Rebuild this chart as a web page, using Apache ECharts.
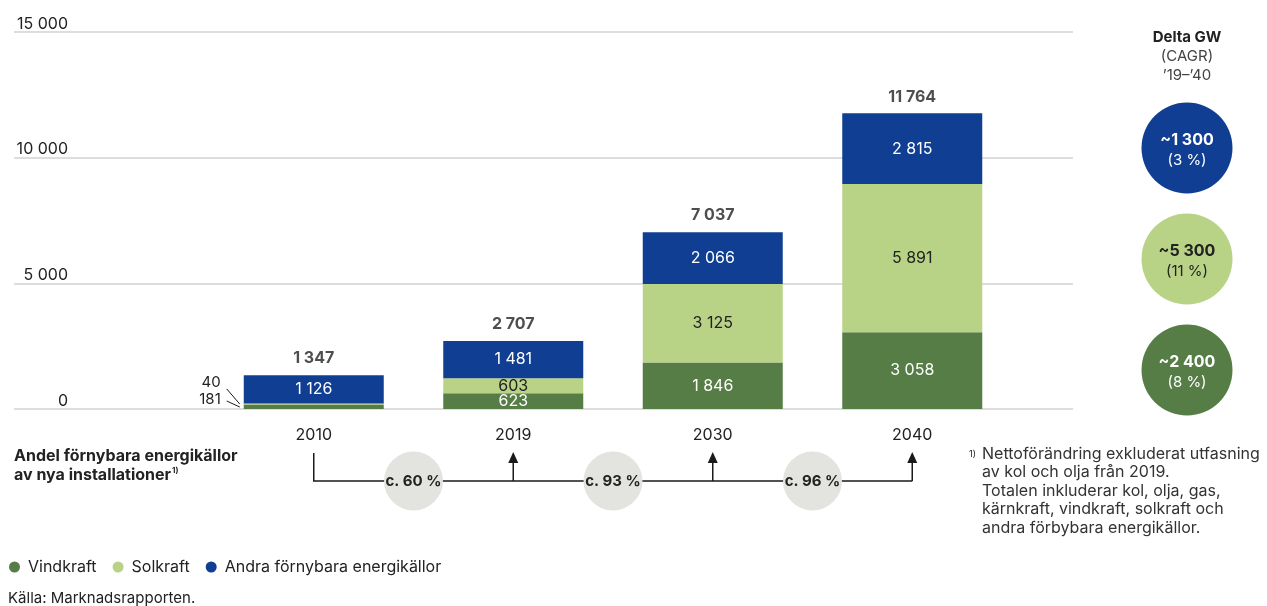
<!DOCTYPE html>
<html>
<head>
<meta charset="utf-8">
<script src="https://cdn.jsdelivr.net/npm/echarts@6/dist/echarts.min.js"></script>
<style>
html,body{margin:0;padding:0;background:#fff;}
#c{width:1267px;height:606px;}
</style>
</head>
<body>
<div id="c"></div>
<script>
var categories = ['2010', '2019', '2030', '2040'];
var vindkraft = [181, 623, 1846, 3058];
var solkraft = [40, 603, 3125, 5891];
var andra = [1126, 1481, 2066, 2815];
var totals = [1347, 2707, 7037, 11764];
var yTicks = [0, 5000, 10000, 15000];
var shares = ['c. 60 %', 'c. 93 %', 'c. 96 %'];
var deltaValues = ['~1 300', '~5 300', '~2 400'];
var deltaCagr = ['(3 %)', '(11 %)', '(8 %)'];

var C_DARK = '#567d45';
var C_LIGHT = '#b8d286';
var C_BLUE = '#0f3e92';
var TXT = '#222222';
var FONT = 'Inter, "Liberation Sans", sans-serif';

function fmt(v) { return String(v).replace(/\B(?=(\d{3})+(?!\d))/g, ' '); }

var chart = echarts.init(document.getElementById('c'), null, {renderer: 'canvas'});

function innerLabel(color) {
  return {show: true, position: 'inside', color: color, fontSize: 16, fontFamily: FONT,
    formatter: function (p) { return fmt(p.value); }};
}

var vindData = vindkraft.map(function (v, i) {
  if (i === 0) {
    return {value: v, label: {show: true, position: 'left', distance: 23, offset: [0, -7], color: TXT, fontSize: 15, fontFamily: FONT}};
  }
  return v;
});
var solData = solkraft.map(function (v, i) {
  if (i === 0) {
    return {value: v, label: {show: true, position: 'left', distance: 23, offset: [0, -21], color: TXT, fontSize: 15, fontFamily: FONT}};
  }
  return v;
});

var option = {
  animation: false,
  textStyle: {fontFamily: FONT},
  grid: [
    {left: 14, right: 194, top: 32, bottom: 197},
    {left: 214, right: 255, top: 32, bottom: 197}
  ],
  xAxis: [
    {gridIndex: 0, type: 'value', show: false, min: 0, max: 1},
    {gridIndex: 1, type: 'category', data: categories,
      axisLine: {show: false}, axisTick: {show: false},
      axisLabel: {color: TXT, fontSize: 16, margin: 18, fontFamily: FONT}}
  ],
  yAxis: [
    {gridIndex: 0, type: 'value', min: yTicks[0], max: yTicks[yTicks.length - 1], interval: yTicks[1] - yTicks[0],
      axisLine: {show: false}, axisTick: {show: false},
      splitLine: {show: true, lineStyle: {color: '#d2d2d2', width: 1.5}},
      axisLabel: {inside: true, align: 'right', verticalAlign: 'bottom', margin: 54, padding: [0, 0, 0, 0],
        color: TXT, fontSize: 16, fontFamily: FONT, formatter: function (v) { return fmt(v); }}},
    {gridIndex: 1, type: 'value', min: yTicks[0], max: yTicks[yTicks.length - 1], show: false}
  ],
  legend: {
    data: ['Vindkraft', 'Solkraft', 'Andra förnybara energikällor'],
    left: 4, top: 554, icon: 'circle', itemWidth: 11, itemHeight: 11, itemGap: 16,
    textStyle: {color: TXT, fontSize: 16, fontFamily: FONT, padding: [0, 0, 0, 3]},
    selectedMode: false
  },
  series: [
    {name: 'Vindkraft', type: 'bar', stack: 's', xAxisIndex: 1, yAxisIndex: 1, barWidth: 140,
      itemStyle: {color: C_DARK}, label: innerLabel('#ffffff'), data: vindData},
    {name: 'Solkraft', type: 'bar', stack: 's', xAxisIndex: 1, yAxisIndex: 1, barWidth: 140,
      itemStyle: {color: C_LIGHT}, label: innerLabel(TXT), data: solData},
    {name: 'Andra förnybara energikällor', type: 'bar', stack: 's', xAxisIndex: 1, yAxisIndex: 1, barWidth: 140,
      itemStyle: {color: C_BLUE}, label: innerLabel('#ffffff'), data: andra},
    {name: 'Totalt', type: 'scatter', xAxisIndex: 1, yAxisIndex: 1, symbolSize: 1,
      itemStyle: {color: 'rgba(0,0,0,0)'}, silent: true,
      label: {show: true, position: 'top', distance: 8, color: TXT, fontWeight: 'bold', fontSize: 16, fontFamily: FONT,
        formatter: function (p) { return fmt(p.value); }},
      data: totals}
  ]
};
chart.setOption(option);

function px(cat, val) { return chart.convertToPixel({xAxisIndex: 1, yAxisIndex: 1}, [cat, val]); }

var g = [];
var cx = categories.map(function (c) { return px(c, 0)[0]; });
var base = px(categories[0], 0)[1];
var lineY = 481;
var stroke = {stroke: '#1a1a1a', lineWidth: 1.5};

// leader lines for the small 2010 segments
var barLeft = cx[0] - 70;
g.push({type: 'line', shape: {x1: barLeft - 17, y1: base - 20, x2: barLeft - 4, y2: base - 5}, style: {stroke: '#1a1a1a', lineWidth: 1}});
g.push({type: 'line', shape: {x1: barLeft - 17, y1: base - 8, x2: barLeft - 4, y2: base - 2}, style: {stroke: '#1a1a1a', lineWidth: 1}});

// arrow diagram
g.push({type: 'polyline', shape: {points: [[cx[0], 453], [cx[0], lineY], [cx[3], lineY]]}, style: {stroke: '#1a1a1a', lineWidth: 1.5, fill: null}});
for (var i = 1; i < cx.length; i++) {
  g.push({type: 'line', shape: {x1: cx[i], y1: lineY, x2: cx[i], y2: 460}, style: stroke});
  g.push({type: 'polygon', shape: {points: [[cx[i], 452], [cx[i] - 5, 463], [cx[i] + 5, 463]]}, style: {fill: '#1a1a1a'}});
}
for (var j = 0; j < shares.length; j++) {
  var mx = (cx[j] + cx[j + 1]) / 2;
  g.push({type: 'circle', shape: {cx: mx, cy: lineY, r: 29.5}, style: {fill: '#e3e3df'}});
  g.push({type: 'text', x: mx, y: lineY, style: {text: shares[j], x: 0, y: 0, align: 'center', verticalAlign: 'middle',
    fill: TXT, font: 'bold 15px ' + FONT}});
}

// left caption
g.push({type: 'text', left: 14, top: 448, style: {text: 'Andel förnybara energikällor', fill: TXT, font: 'bold 16px ' + FONT}});
g.push({type: 'text', left: 14, top: 467, style: {
  text: '{a|av nya installationer}{s|1)}',
  rich: {a: {fill: TXT, font: 'bold 16px ' + FONT}, s: {fill: TXT, font: 'bold 8px ' + FONT, verticalAlign: 'top', padding: [0, 0, 6, 1]}}
}});

// right panel
var rc = 1187;
g.push({type: 'text', x: rc, y: 37, style: {text: 'Delta GW', align: 'center', verticalAlign: 'middle', fill: TXT, font: 'bold 15px ' + FONT}});
g.push({type: 'text', x: rc, y: 56, style: {text: '(CAGR)', align: 'center', verticalAlign: 'middle', fill: '#444', font: '15px ' + FONT}});
g.push({type: 'text', x: rc, y: 75, style: {text: '\u201919\u2013\u201940', align: 'center', verticalAlign: 'middle', fill: '#444', font: '15px ' + FONT}});
var circCols = [C_BLUE, C_LIGHT, C_DARK];
var circTxt = ['#ffffff', TXT, '#ffffff'];
var circY = [148, 259, 370];
for (var k = 0; k < 3; k++) {
  g.push({type: 'circle', shape: {cx: rc, cy: circY[k], r: 45.5}, style: {fill: circCols[k]}});
  g.push({type: 'text', x: rc, y: circY[k] - 8, style: {text: deltaValues[k], align: 'center', verticalAlign: 'middle', fill: circTxt[k], font: 'bold 16px ' + FONT}});
  g.push({type: 'text', x: rc, y: circY[k] + 12, style: {text: deltaCagr[k], align: 'center', verticalAlign: 'middle', fill: circTxt[k], font: '15px ' + FONT}});
}

// footnote
g.push({type: 'text', left: 969, top: 450, style: {text: '1)', fill: TXT, font: '9px ' + FONT}});
var foot = ['Nettoförändring exkluderat utfasning', 'av kol och olja från 2019.', 'Totalen inkluderar kol, olja, gas,', 'kärnkraft, vindkraft, solkraft och', 'andra förbybara energikällor.'];
for (var f = 0; f < foot.length; f++) {
  g.push({type: 'text', left: 982, top: 446 + f * 18.5, style: {text: foot[f], fill: '#333', font: '16px ' + FONT}});
}

// source
g.push({type: 'text', left: 8, top: 591, style: {text: 'Källa: Marknadsrapporten.', fill: TXT, font: '15px ' + FONT}});

chart.setOption({graphic: g});
</script>
</body>
</html>
